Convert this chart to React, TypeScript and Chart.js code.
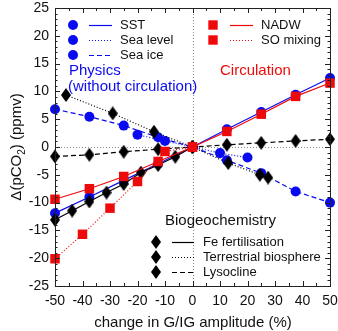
import React, { useEffect, useRef } from "react";
import { Chart, registerables } from "chart.js";

Chart.register(...registerables);

// ---- data -------------------------------------------------------------
const xTickValues = [-50, -40, -30, -20, -10, 0, 10, 20, 30, 40, 50];
const yTickValues = [-25, -20, -15, -10, -5, 0, 5, 10, 15, 20, 25];

// Physics (without circulation)
const sstX = [-50, -37.5, -25, -12.5, 0, 12.5, 25, 37.5, 50];
const sstY = [-11.9, -9.0, -6.0, -3.0, 0, 3.2, 6.3, 9.4, 12.4];
const seaLevelX = [-20, -10, 0, 10, 20];
const seaLevelY = [2.2, 1.1, 0, -1.1, -1.9];
const seaIceX = [-50, -37.5, -25, -12.5, 0, 12.5, 25, 37.5, 50];
const seaIceY = [6.8, 5.45, 3.85, 1.75, 0, -2.4, -4.7, -8.0, -10.0];

// Circulation
const nadwX = [-50, -37.5, -25, -12.5, 0, 12.5, 25, 37.5, 50];
const nadwY = [-9.4, -7.5, -5.3, -2.6, 0, 2.8, 5.9, 9.1, 11.5];
const soMixX = [-50, -40, -30, -20, -10, 0];
const soMixY = [-20.1, -15.7, -11.0, -6.2, -0.8, 0];

// Biogeochemistry
const feX = [-50, -43.75, -37.5, -31.25, -25, -18.75, -12.5, -6.25, 0];
const feY = [-13.1, -11.45, -9.8, -8.2, -6.65, -4.6, -3.25, -1.75, 0];
const terrX = [-46, -29, -14, 0, 13, 24.5, 27.5];
const terrY = [9.35, 6.05, 2.75, 0, -2.9, -5.0, -5.5];
const lysoX = [-50, -37.5, -25, -12.5, 0, 12.5, 25, 37.5, 50];
const lysoY = [-1.7, -1.4, -0.85, -0.4, 0, 0.4, 0.75, 1.1, 1.4];

// ---- styling ----------------------------------------------------------
const FONT = "'Liberation Sans', Arial, Helvetica, sans-serif";
const BLUE = "#0a0af0";
const RED = "#ee0a0a";
const BLACK = "#000000";
const TEXT = "#111111";
const DOT = [1, 2];
const DASH = [5, 3];

const pts = (xs: number[], ys: number[]) => xs.map((x, i) => ({ x, y: ys[i] }));

function makeDiamond(w: number, h: number): HTMLCanvasElement {
  const c = document.createElement("canvas");
  c.width = w;
  c.height = h;
  const g = c.getContext("2d")!;
  g.beginPath();
  g.moveTo(w / 2, 0);
  g.lineTo(w, h / 2);
  g.lineTo(w / 2, h);
  g.lineTo(0, h / 2);
  g.closePath();
  g.fillStyle = BLACK;
  g.fill();
  return c;
}

function drawMarker(ctx: CanvasRenderingContext2D, kind: string, x: number, y: number, diamond: HTMLCanvasElement) {
  ctx.save();
  if (kind === "circle") {
    ctx.fillStyle = BLUE;
    ctx.beginPath();
    ctx.arc(x, y, 5, 0, Math.PI * 2);
    ctx.fill();
  } else if (kind === "square") {
    ctx.fillStyle = RED;
    ctx.fillRect(x - 4.7, y - 4.7, 9.4, 9.4);
  } else {
    ctx.drawImage(diamond, x - diamond.width / 2, y - diamond.height / 2);
  }
  ctx.restore();
}

function drawSample(ctx: CanvasRenderingContext2D, x1: number, x2: number, y: number, color: string, dash: number[]) {
  ctx.save();
  ctx.strokeStyle = color;
  ctx.lineWidth = 1.2;
  ctx.setLineDash(dash);
  ctx.beginPath();
  ctx.moveTo(x1, y + 0.5);
  ctx.lineTo(x2, y + 0.5);
  ctx.stroke();
  ctx.restore();
}

export default function App() {
  const ref = useRef<HTMLCanvasElement | null>(null);

  useEffect(() => {
    if (!ref.current) return;
    const diamond = makeDiamond(10, 14);

    const decorations = {
      id: "decorations",
      beforeDatasetsDraw(chart: any) {
        const { ctx, chartArea: a, scales } = chart;
        const x0 = Math.round(scales.x.getPixelForValue(0)) + 0.5;
        const y0 = Math.round(scales.y.getPixelForValue(0)) + 0.5;
        ctx.save();
        ctx.strokeStyle = "#8a8a8a";
        ctx.lineWidth = 1;
        ctx.setLineDash([1, 2]);
        ctx.beginPath();
        ctx.moveTo(x0, a.top);
        ctx.lineTo(x0, a.bottom);
        ctx.moveTo(a.left, y0);
        ctx.lineTo(a.right, y0);
        ctx.stroke();
        ctx.restore();
      },
      afterDraw(chart: any) {
        const { ctx, chartArea: a, scales } = chart;
        const xs = scales.x;
        const ys = scales.y;
        ctx.save();

        // frame
        ctx.strokeStyle = "#222";
        ctx.lineWidth = 1;
        ctx.strokeRect(Math.round(a.left) + 0.5, Math.round(a.top) + 0.5, Math.round(a.right - a.left), Math.round(a.bottom - a.top));

        // inward ticks on all four sides
        ctx.beginPath();
        for (let v = -50; v <= 50; v += 5) {
          const px = Math.round(xs.getPixelForValue(v)) + 0.5;
          const len = v % 10 === 0 ? 5 : 3;
          ctx.moveTo(px, a.bottom);
          ctx.lineTo(px, a.bottom - len);
          ctx.moveTo(px, a.top);
          ctx.lineTo(px, a.top + len);
        }
        for (let v = -25; v <= 25; v += 1) {
          const py = Math.round(ys.getPixelForValue(v)) + 0.5;
          const len = v % 5 === 0 ? 5 : 2.5;
          ctx.moveTo(a.left, py);
          ctx.lineTo(a.left + len, py);
          ctx.moveTo(a.right, py);
          ctx.lineTo(a.right - len, py);
        }
        ctx.stroke();

        // axis titles
        ctx.fillStyle = TEXT;
        ctx.font = `15px ${FONT}`;
        ctx.textAlign = "center";
        ctx.textBaseline = "middle";
        ctx.fillText("change in G/IG amplitude (%)", 193, 323);

        ctx.save();
        ctx.translate(17, 147);
        ctx.rotate(-Math.PI / 2);
        ctx.textAlign = "left";
        const p1 = "\u0394(pCO";
        const p2 = "2";
        const p3 = ") (ppmv)";
        ctx.font = `15px ${FONT}`;
        const w1 = ctx.measureText(p1).width;
        const w3 = ctx.measureText(p3).width;
        ctx.font = `10px ${FONT}`;
        const w2 = ctx.measureText(p2).width;
        let sx = -(w1 + w2 + w3) / 2;
        ctx.font = `15px ${FONT}`;
        ctx.fillText(p1, sx, 0);
        ctx.font = `10px ${FONT}`;
        ctx.fillText(p2, sx + w1, 5);
        ctx.font = `15px ${FONT}`;
        ctx.fillText(p3, sx + w1 + w2, 0);
        ctx.restore();

        // group headings
        ctx.textAlign = "left";
        ctx.font = `15px ${FONT}`;
        ctx.fillStyle = BLUE;
        ctx.fillText("Physics", 69, 71);
        ctx.fillText("(without circulation)", 68, 87);
        ctx.fillStyle = RED;
        ctx.fillText("Circulation", 220, 71);
        ctx.fillStyle = TEXT;
        ctx.fillText("Biogeochemistry", 165, 221);

        // legend entries
        ctx.font = `13px ${FONT}`;
        const physics = [
          { label: "SST", dash: [] as number[], y: 25 },
          { label: "Sea level", dash: DOT, y: 40 },
          { label: "Sea ice", dash: DASH, y: 55 },
        ];
        physics.forEach((e) => {
          drawMarker(ctx, "circle", 73, e.y, diamond);
          drawSample(ctx, 89, 112, e.y, BLUE, e.dash);
          ctx.fillStyle = TEXT;
          ctx.fillText(e.label, 120, e.y);
        });
        const circ = [
          { label: "NADW", dash: [] as number[], y: 25 },
          { label: "SO mixing", dash: DOT, y: 40 },
        ];
        circ.forEach((e) => {
          drawMarker(ctx, "square", 213, e.y, diamond);
          drawSample(ctx, 230, 253, e.y, RED, e.dash);
          ctx.fillStyle = TEXT;
          ctx.fillText(e.label, 261, e.y);
        });
        const bio = [
          { label: "Fe fertilisation", dash: [] as number[], y: 242 },
          { label: "Terrestrial biosphere", dash: DOT, y: 257 },
          { label: "Lysocline", dash: DASH, y: 272 },
        ];
        bio.forEach((e) => {
          drawMarker(ctx, "diamond", 156, e.y, diamond);
          drawSample(ctx, 172, 194, e.y, BLACK, e.dash);
          ctx.fillStyle = TEXT;
          ctx.fillText(e.label, 203, e.y);
        });

        ctx.restore();
      },
    };

    const line = (data: any[], color: string, dash: number[], style: any, radius: number) => ({
      data,
      borderColor: color,
      backgroundColor: color,
      borderWidth: 1.2,
      borderDash: dash,
      pointStyle: style,
      pointRadius: radius,
      pointBorderWidth: 0,
      pointBackgroundColor: color,
      pointBorderColor: color,
      showLine: true,
      tension: 0,
      clip: false as any,
    });

    // earlier datasets are painted on top
    const chart = new Chart(ref.current, {
      type: "line",
      data: {
        datasets: [
          { label: "NADW", ...line(pts(nadwX, nadwY), RED, [], "rect", 6.7) },
          { label: "SO mixing", ...line(pts(soMixX, soMixY), RED, DOT, "rect", 6.7) },
          { label: "Fe fertilisation", ...line(pts(feX, feY), BLACK, [], diamond, 5) },
          { label: "Terrestrial biosphere", ...line(pts(terrX, terrY), BLACK, DOT, diamond, 5) },
          { label: "Lysocline", ...line(pts(lysoX, lysoY), BLACK, DASH, diamond, 5) },
          { label: "SST", ...line(pts(sstX, sstY), BLUE, [], "circle", 5) },
          { label: "Sea level", ...line(pts(seaLevelX, seaLevelY), BLUE, DOT, "circle", 5) },
          { label: "Sea ice", ...line(pts(seaIceX, seaIceY), BLUE, DASH, "circle", 5) },
        ],
      },
      options: {
        animation: false,
        responsive: false,
        events: [],
        layout: { padding: { top: 8, right: 0, left: 0, bottom: 0 } },
        plugins: { legend: { display: false }, tooltip: { enabled: false } },
        scales: {
          x: {
            type: "linear",
            min: -50,
            max: 50,
            afterBuildTicks: (s: any) => {
              s.ticks = xTickValues.map((value) => ({ value }));
            },
            afterFit: (s: any) => {
              s.height = 45;
              s.paddingLeft = 0;
              s.paddingRight = 8;
            },
            ticks: { font: { family: FONT, size: 14 }, color: TEXT, padding: 7, maxRotation: 0, autoSkip: false },
            grid: { display: false, drawTicks: false },
            border: { display: false },
          },
          y: {
            type: "linear",
            min: -25,
            max: 25,
            afterBuildTicks: (s: any) => {
              s.ticks = yTickValues.map((value) => ({ value }));
            },
            afterFit: (s: any) => {
              s.width = 55;
              s.paddingTop = 0;
              s.paddingBottom = 0;
            },
            ticks: { font: { family: FONT, size: 14 }, color: TEXT, padding: 6, autoSkip: false },
            grid: { display: false, drawTicks: false },
            border: { display: false },
          },
        },
      },
      plugins: [decorations],
    });

    return () => chart.destroy();
  }, []);

  return (
    <div style={{ position: "absolute", left: 0, top: 0, width: 338, height: 331, background: "#fff" }}>
      <canvas ref={ref} width={338} height={331} style={{ display: "block" }} />
    </div>
  );
}
